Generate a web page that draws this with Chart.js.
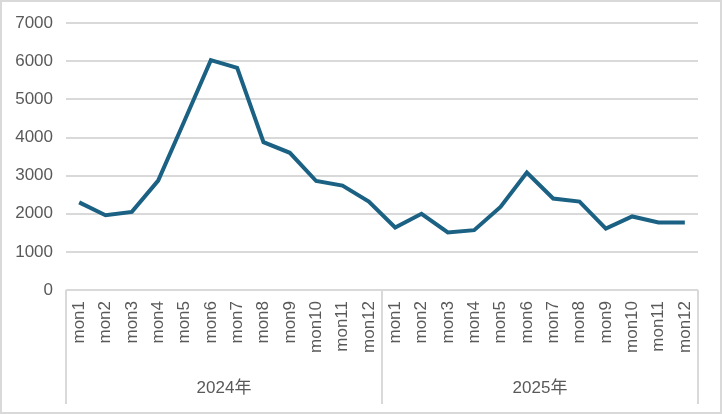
<!DOCTYPE html>
<html>
<head>
<meta charset="utf-8">
<script src="https://cdn.jsdelivr.net/npm/chart.js@4/dist/chart.umd.min.js"></script>
<style>
  html, body { margin: 0; padding: 0; background: #fff; }
  #wrap { position: relative; width: 722px; height: 414px; }
  #c { position: absolute; left: 0; top: 0; }
  #frame { position: absolute; left: 0; top: 0; width: 722px; height: 414px; box-sizing: border-box; border: 2px solid #d9d9d9; pointer-events: none; }
</style>
</head>
<body>
<div id="wrap">
  <canvas id="c" width="722" height="414"></canvas>
  <div id="frame"></div>
</div>
<script>
const months = ['mon1','mon2','mon3','mon4','mon5','mon6','mon7','mon8','mon9','mon10','mon11','mon12'];
const years = ['2024年', '2025年'];
const values2024 = [2300, 1960, 2050, 2870, 4440, 6030, 5830, 3880, 3600, 2860, 2740, 2320];
const values2025 = [1640, 2000, 1510, 1570, 2180, 3080, 2400, 2320, 1610, 1930, 1770, 1770];
const yTicks = [0, 1000, 2000, 3000, 4000, 5000, 6000, 7000];

const labels = [...months, ...months];
const values = [...values2024, ...values2025];

const FONT = "'Liberation Sans', 'Noto Sans CJK SC', sans-serif";
const GRAY = '#d9d9d9';
const TEXT = '#595959';

const groupLines = {
  id: 'groupLines',
  afterDraw(chart) {
    const x = chart.scales.x;
    const x2 = chart.scales.x2;
    const ctx = chart.ctx;
    const top = chart.chartArea.bottom;
    const bottom = x2.bottom - 10;
    const positions = [chart.chartArea.left];
    for (let g = 1; g < years.length; g++) {
      const i = g * months.length;
      positions.push((x.getPixelForValue(i - 1) + x.getPixelForValue(i)) / 2);
    }
    positions.push(chart.chartArea.right);
    ctx.save();
    ctx.strokeStyle = GRAY;
    ctx.lineWidth = 2;
    positions.forEach(p => {
      ctx.beginPath();
      ctx.moveTo(p, top);
      ctx.lineTo(p, bottom);
      ctx.stroke();
    });
    ctx.restore();
  }
};

new Chart(document.getElementById('c'), {
  type: 'line',
  data: {
    labels: labels,
    datasets: [{
      data: values,
      borderColor: '#1b6183',
      borderWidth: 4,
      pointRadius: 0,
      tension: 0,
      fill: false,
      borderJoinStyle: 'miter',
      borderCapStyle: 'butt'
    }]
  },
  options: {
    responsive: false,
    animation: false,
    layout: { padding: { top: 22, right: 24, left: 0, bottom: 0 } },
    plugins: { legend: { display: false }, tooltip: { enabled: false } },
    scales: {
      y: {
        min: 0,
        max: 7000,
        afterBuildTicks(scale) { scale.ticks = yTicks.map(v => ({ value: v })); },
        afterFit(scale) { scale.width = 66; },
        border: { display: false },
        grid: { color: GRAY, lineWidth: 2, drawTicks: false },
        ticks: { padding: 13, color: TEXT, font: { family: FONT, size: 17 }, callback: v => String(v) }
      },
      x: {
        type: 'category',
        position: 'bottom',
        offset: true,
        afterFit(scale) { scale.height = 80; },
        border: { display: false },
        grid: { display: false, drawTicks: false },
        ticks: {
          autoSkip: false,
          maxRotation: 90,
          minRotation: 90,
          padding: 11,
          color: TEXT,
          font: { family: FONT, size: 17 }
        }
      },
      x2: {
        type: 'category',
        position: 'bottom',
        labels: years,
        offset: true,
        afterFit(scale) { scale.height = 44; },
        border: { display: false },
        grid: { display: false, drawTicks: false },
        ticks: { padding: 8, color: TEXT, font: { family: FONT, size: 17 } }
      }
    }
  },
  plugins: [groupLines]
});
</script>
</body>
</html>
